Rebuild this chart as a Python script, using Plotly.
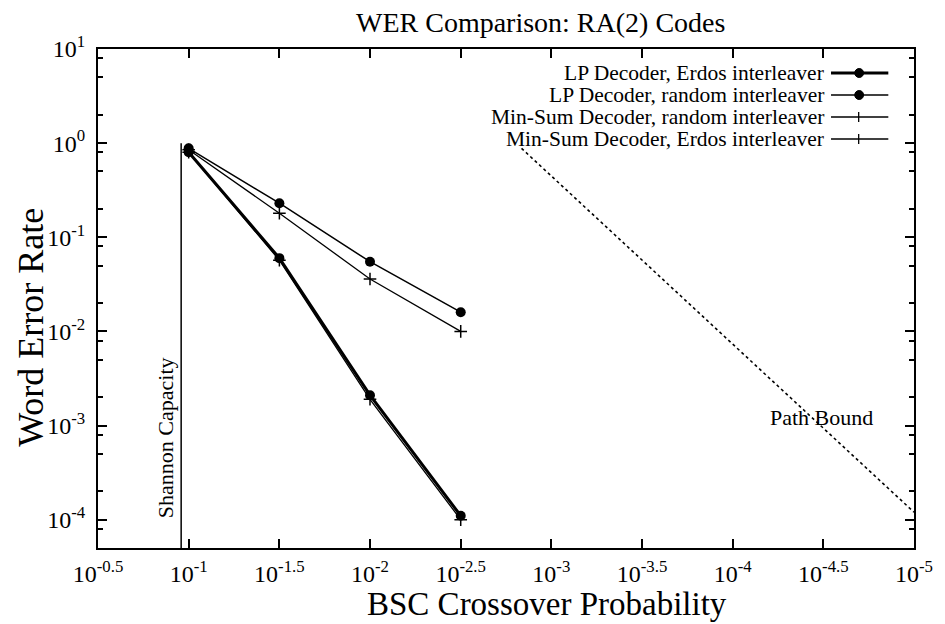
import plotly.graph_objects as go
import math

# ---- data ----
x_p = [0.1, 0.0316, 0.01, 0.00316]
lp_erdos = [0.80, 0.060, 0.0021, 1.1e-4]
lp_random = [0.88, 0.23, 0.055, 0.016]
ms_random = [0.85, 0.18, 0.036, 0.0100]
ms_erdos = [0.80, 0.057, 0.0019, 1.0e-4]
shannon_x = [0.11, 0.11]
shannon_y = [5e-5, 1.0]
path_x = [0.00146, 1e-5]
path_y = [0.88, 1.2e-4]

x_tick_exp = ["-0.5", "-1", "-1.5", "-2", "-2.5", "-3", "-3.5", "-4", "-4.5", "-5"]
y_tick_exp = ["1", "0", "-1", "-2", "-3", "-4"]

legend_names = [
    "LP Decoder, Erdos interleaver",
    "LP Decoder, random interleaver",
    "Min-Sum Decoder, random interleaver",
    "Min-Sum Decoder, Erdos interleaver",
]

FONT = "Liberation Serif"
W, H = 945, 624
L, R, T, B = 98, 21, 49, 76
PW, PH = W - L - R, H - T - B


def px2paper(px, py):
    return (px - L) / PW, (H - B - py) / PH


fig = go.Figure()

# Shannon capacity line
fig.add_trace(go.Scatter(x=shannon_x, y=shannon_y, mode="lines",
                         line=dict(color="black", width=1.5), showlegend=False))
# Path bound
fig.add_trace(go.Scatter(x=path_x, y=path_y, mode="lines",
                         line=dict(color="black", width=1.6, dash="dot"), showlegend=False))

fig.add_trace(go.Scatter(x=x_p, y=lp_random, mode="lines+markers", name=legend_names[1],
                         line=dict(color="black", width=1.5),
                         marker=dict(symbol="circle", size=10, color="black"), showlegend=False))
fig.add_trace(go.Scatter(x=x_p, y=ms_random, mode="lines+markers", name=legend_names[2],
                         line=dict(color="black", width=1.3),
                         marker=dict(symbol="cross-thin", size=9, line=dict(color="black", width=1.5)),
                         showlegend=False))
fig.add_trace(go.Scatter(x=x_p, y=ms_erdos, mode="lines+markers", name=legend_names[3],
                         line=dict(color="black", width=1.3),
                         marker=dict(symbol="cross-thin", size=9, line=dict(color="black", width=1.5)),
                         showlegend=False))
fig.add_trace(go.Scatter(x=x_p, y=lp_erdos, mode="lines+markers", name=legend_names[0],
                         line=dict(color="black", width=3),
                         marker=dict(symbol="circle", size=10, color="black"), showlegend=False))

# ---- manual legend (text right-aligned, sample on the right) ----
rows_y = [73, 95, 117, 139]
line_widths = [3, 1.5, 1.3, 1.3]
markers = ["circle", "circle", "plus", "plus"]
for name, ry, lw, mk in zip(legend_names, rows_y, line_widths, markers):
    tx, ty = px2paper(834, ry)
    fig.add_annotation(x=tx, y=ty, xref="paper", yref="paper", text=name, showarrow=False,
                       xanchor="right", yanchor="middle", borderpad=0,
                       font=dict(family=FONT, size=21.5, color="black"))
    x0, y0 = px2paper(840, ry)
    x1, _ = px2paper(898, ry)
    fig.add_shape(type="line", xref="paper", yref="paper", x0=x0, x1=x1, y0=y0, y1=y0,
                  line=dict(color="black", width=lw))
    if mk == "circle":
        cx0, cy0 = px2paper(864, ry + 4.5)
        cx1, cy1 = px2paper(873, ry - 4.5)
        fig.add_shape(type="circle", xref="paper", yref="paper", x0=cx0, x1=cx1, y0=cy0, y1=cy1,
                      fillcolor="black", line=dict(color="black", width=1))
    else:
        vx, vy0 = px2paper(868, ry + 5)
        _, vy1 = px2paper(868, ry - 5)
        fig.add_shape(type="line", xref="paper", yref="paper", x0=vx, x1=vx, y0=vy0, y1=vy1,
                      line=dict(color="black", width=1.3))

# ---- labels ----
fig.add_annotation(x=math.log10(0.11), y=math.log10(5e-5), xref="x", yref="y",
                   text="Shannon Capacity", textangle=-90, showarrow=False,
                   xanchor="right", yanchor="bottom", xshift=-1, yshift=28,
                   font=dict(family=FONT, size=22, color="black"))
fig.add_annotation(x=-4.49, y=-2.915, xref="x", yref="y", text="Path Bound", showarrow=False,
                   xanchor="center", yanchor="middle", font=dict(family=FONT, size=22, color="black"))

tx, ty = px2paper(30, 327)
fig.add_annotation(x=tx, y=ty, xref="paper", yref="paper", text="Word Error Rate", textangle=-90,
                   showarrow=False, xanchor="center", yanchor="middle",
                   font=dict(family=FONT, size=36, color="black"))
tx, ty = px2paper(552, 623)
fig.add_annotation(x=tx, y=ty, xref="paper", yref="paper", text="BSC Crossover Probability",
                   showarrow=False, xanchor="center", yanchor="bottom", borderpad=0,
                   font=dict(family=FONT, size=33, color="black"))
tx, ty = px2paper(546, 22)
fig.add_annotation(x=tx, y=ty, xref="paper", yref="paper", text="WER Comparison: RA(2) Codes",
                   showarrow=False, xanchor="center", yanchor="middle",
                   font=dict(family=FONT, size=28, color="black"))

x_tickvals = [10 ** float(e) for e in x_tick_exp]
x_ticktext = ["10<sup>%s</sup>" % e for e in x_tick_exp]
y_tickvals = [10 ** float(e) for e in y_tick_exp]
y_ticktext = ["10<sup>%s</sup>" % e for e in y_tick_exp]
y_minor = []
for d in range(-5, 1):
    for m in (2, 5, 8):
        v = m * 10 ** d
        if 5e-5 <= v <= 10:
            y_minor.append(v)

axis_common = dict(showline=True, linecolor="black", linewidth=2, mirror="allticks",
                   ticks="inside", tickcolor="black", tickwidth=1.5, ticklen=9,
                   showgrid=False, zeroline=False,
                   tickfont=dict(family=FONT, size=24, color="black"))

fig.update_xaxes(type="log", range=[-0.5, -5], tickmode="array", tickvals=x_tickvals,
                 ticktext=x_ticktext, ticklabelstandoff=3, **axis_common)
fig.update_yaxes(type="log", range=[math.log10(5e-5), 1], tickmode="array", tickvals=y_tickvals,
                 ticktext=y_ticktext, ticklabelstandoff=6,
                 minor=dict(tickmode="array", tickvals=y_minor, ticks="inside", ticklen=5,
                            tickcolor="black", tickwidth=1.5),
                 **axis_common)

fig.update_layout(width=W, height=H, margin=dict(l=L, r=R, t=T, b=B),
                  plot_bgcolor="white", paper_bgcolor="white", showlegend=False,
                  font=dict(family=FONT, color="black"))

fig.write_html("out.html")
